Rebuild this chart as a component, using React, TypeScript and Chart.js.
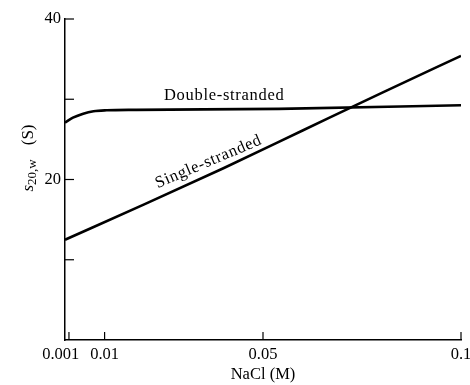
import React, { useEffect, useRef } from "react";
import { Chart, registerables } from "chart.js";

Chart.register(...registerables);

const naclDouble = [0, 0.002, 0.0046, 0.0072, 0.0105, 0.018, 0.054, 0.1];
const sDouble = [27.1, 27.7, 28.2, 28.5, 28.62, 28.68, 28.8, 29.25];
const naclSingle = [0, 0.02, 0.04, 0.06, 0.08, 0.1];
const sSingle = [12.5, 16.9, 21.4, 26.1, 30.8, 35.4];
const xTickValues = [0.001, 0.01, 0.05, 0.1];
const xTickLabels = ["0.001\u2002\u2002", "0.01", "0.05", "0.1"];
const yTickValues = [10, 20, 30, 40];
const yTickLabels = ["", "20", "", "40"];
const seriesNames = ["Double-stranded", "Single-stranded"];

const FONT = "'Liberation Serif', 'DejaVu Serif', serif";

const decorPlugin = {
  id: "decor",
  afterDraw(chart: any) {
    const ctx = chart.ctx;
    const xs = chart.scales.x;
    const ys = chart.scales.y;
    const area = chart.chartArea;
    ctx.save();
    ctx.strokeStyle = "#000";
    ctx.lineWidth = 1.2;
    yTickValues.forEach((v) => {
      const y = ys.getPixelForValue(v);
      ctx.beginPath();
      ctx.moveTo(area.left, y);
      ctx.lineTo(area.left + 9, y);
      ctx.stroke();
    });
    xTickValues.forEach((v) => {
      const x = xs.getPixelForValue(v);
      ctx.beginPath();
      ctx.moveTo(x, area.bottom);
      ctx.lineTo(x, area.bottom - 8);
      ctx.stroke();
    });
    ctx.fillStyle = "#000";
    ctx.font = `16.5px ${FONT}`;
    (ctx as any).letterSpacing = "0.7px";
    ctx.textAlign = "center";
    ctx.textBaseline = "alphabetic";
    ctx.fillText(seriesNames[0], xs.getPixelForValue(0.0402), ys.getPixelForValue(29.9));
    ctx.save();
    ctx.translate(xs.getPixelForValue(0.0367), ys.getPixelForValue(21.7));
    ctx.rotate((-23 * Math.PI) / 180);
    ctx.fillText(seriesNames[1], 0, 0);
    ctx.restore();
    (ctx as any).letterSpacing = "0px";
    ctx.save();
    ctx.translate(33, 158);
    ctx.rotate(-Math.PI / 2);
    ctx.textAlign = "left";
    const part1 = "s";
    const part2 = "20,w";
    const gap = 14;
    const part3 = "(S)";
    ctx.font = `italic 17px ${FONT}`;
    const w1 = ctx.measureText(part1).width;
    ctx.font = `13px ${FONT}`;
    const w2 = ctx.measureText(part2).width;
    ctx.font = `17px ${FONT}`;
    const w3 = ctx.measureText(part3).width;
    let x0 = -(w1 + w2 + gap + w3) / 2;
    ctx.font = `italic 17px ${FONT}`;
    ctx.fillText(part1, x0, 0);
    x0 += w1;
    ctx.font = `13px ${FONT}`;
    ctx.fillText(part2, x0, 3);
    x0 += w2 + gap;
    ctx.font = `17px ${FONT}`;
    ctx.fillText(part3, x0, 0);
    ctx.restore();
    ctx.restore();
  },
};

export default function App() {
  const ref = useRef<HTMLCanvasElement | null>(null);
  useEffect(() => {
    document.body.style.margin = "0";
    const canvas = ref.current;
    if (!canvas) return;
    const chart = new Chart(canvas, {
      type: "line",
      data: {
        datasets: [
          {
            label: seriesNames[0],
            data: naclDouble.map((x, i) => ({ x, y: sDouble[i] })),
            borderColor: "#000",
            borderWidth: 2.6,
            pointRadius: 0,
            cubicInterpolationMode: "monotone",
            fill: false,
          },
          {
            label: seriesNames[1],
            data: naclSingle.map((x, i) => ({ x, y: sSingle[i] })),
            borderColor: "#000",
            borderWidth: 2.6,
            pointRadius: 0,
            cubicInterpolationMode: "monotone",
            fill: false,
          },
        ],
      },
      options: {
        responsive: false,
        animation: false,
        events: [],
        layout: { padding: { top: 19, right: 9, left: 0, bottom: 0 } },
        plugins: { legend: { display: false }, tooltip: { enabled: false } },
        scales: {
          x: {
            type: "linear",
            min: 0,
            max: 0.1,
            grid: { display: false, drawTicks: false },
            border: { display: true, color: "#000", width: 1.5 },
            afterBuildTicks: (scale: any) => {
              scale.ticks = xTickValues.map((v) => ({ value: v }));
            },
            afterFit: (scale: any) => {
              scale.height = 45;
              scale.paddingLeft = 0;
              scale.paddingRight = 0;
            },
            ticks: {
              autoSkip: false,
              maxRotation: 0,
              padding: 5,
              color: "#000",
              font: { family: FONT, size: 16.5 },
              callback: (v: any) => {
                const i = xTickValues.indexOf(Number(v));
                return i >= 0 ? xTickLabels[i] : "";
              },
            },
            title: {
              display: true,
              text: "NaCl (M)",
              color: "#000",
              font: { family: FONT, size: 16.5 },
              padding: { top: 3, bottom: 0 },
            },
          },
          y: {
            type: "linear",
            min: 0,
            max: 40,
            grid: { display: false, drawTicks: false },
            border: { display: true, color: "#000", width: 1.5 },
            afterBuildTicks: (scale: any) => {
              scale.ticks = yTickValues.map((v) => ({ value: v }));
            },
            afterFit: (scale: any) => {
              scale.width = 65;
              scale.paddingTop = 0;
              scale.paddingBottom = 0;
            },
            ticks: {
              autoSkip: false,
              padding: 4,
              color: "#000",
              font: { family: FONT, size: 16.5 },
              callback: (v: any) => {
                const i = yTickValues.indexOf(Number(v));
                return i >= 0 ? yTickLabels[i] : "";
              },
            },
          },
        },
      },
      plugins: [decorPlugin],
    } as any);
    return () => chart.destroy();
  }, []);
  return (
    <div style={{ width: 470, height: 385, background: "#fff" }}>
      <canvas ref={ref} width={470} height={385} />
    </div>
  );
}
